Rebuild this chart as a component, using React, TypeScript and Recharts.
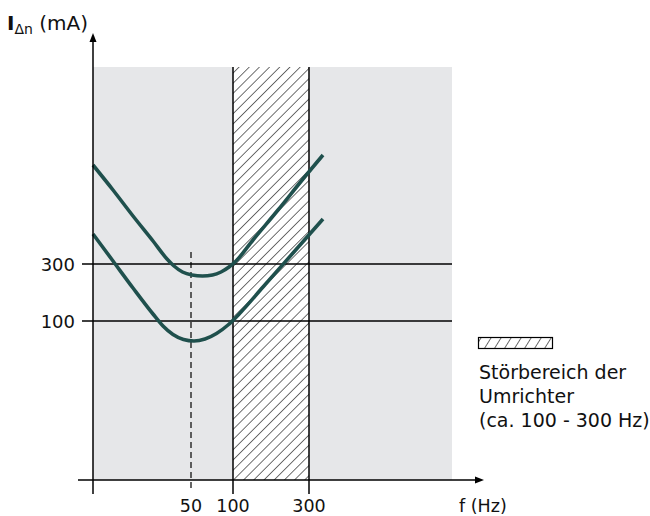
import React from "react";
import {
  ComposedChart,
  Line,
  XAxis,
  YAxis,
  ReferenceArea,
  ReferenceLine,
  ReferenceDot,
} from "recharts";

const FONT = "'DejaVu Sans', sans-serif";
const CURVE = "#1f504d";

// schematic units: u along f, v along I (origin where the axes cross)
const upperU = [0, 20, 40, 60, 74, 81, 89.5, 99, 109.5, 119.5, 128, 136, 143, 160, 185, 210, 230];
const upperV = [315, 290, 264, 239, 221, 214, 208, 205, 204, 205, 208, 213, 219, 240, 270, 301, 325];
const lowerU = [0, 20, 40, 60, 70, 80, 90.5, 101, 112, 123.5, 135, 148, 170, 200, 230];
const lowerV = [246, 219, 192, 166, 154, 145.5, 140.5, 139, 141, 146.5, 155, 168, 193, 227, 261];

const xTickPos = [98, 140, 216];
const xTickLabels = ["50", "100", "300"];
const yTickPos = [216, 159];
const yTickLabels = ["300", "100"];

const legendLines = ["Störbereich der", "Umrichter", "(ca. 100 - 300 Hz)"];

const upperData = upperU.map((u, i) => ({ u, v: upperV[i] }));
const lowerData = lowerU.map((u, i) => ({ u, v: lowerV[i] }));

const XTickLabel = (label: string) => (props: any) => (
  <text x={props.cx} y={props.cy + 18} textAnchor="middle" fontFamily={FONT} fontSize={17.5} fill="#111">
    {label}
  </text>
);

const YTickLabel = (label: string) => (props: any) => (
  <text x={props.cx - 7} y={props.cy + 6.5} textAnchor="end" fontFamily={FONT} fontSize={18} fill="#111">
    {label}
  </text>
);

const ArrowUp = (props: any) => (
  <path d={`M${props.cx},${props.cy} l-3.5,9 l7,0 z`} fill="#000" />
);
const ArrowRight = (props: any) => (
  <path d={`M${props.cx},${props.cy} l-9,-3.5 l0,7 z`} fill="#000" />
);

export default function App() {
  return (
    <div style={{ position: "absolute", left: 0, top: 0, width: 650, height: 516 }}>
      <svg width={0} height={0} style={{ position: "absolute" }}>
        <defs>
          <pattern id="hatch" patternUnits="userSpaceOnUse" width={7.2} height={7.2} patternTransform="rotate(45)">
            <rect width={7.2} height={7.2} fill="#fff" />
            <line x1={0} y1={0} x2={0} y2={7.2} stroke="#222" strokeWidth={1.3} />
          </pattern>
          <pattern id="hatchSmall" patternUnits="userSpaceOnUse" width={8.5} height={8.5} patternTransform="rotate(32)">
            <rect width={8.5} height={8.5} fill="#fff" />
            <line x1={0} y1={0} x2={0} y2={8.5} stroke="#222" strokeWidth={1.3} />
          </pattern>
        </defs>
      </svg>
      <ComposedChart width={650} height={516} margin={{ top: 0, right: 0, bottom: 0, left: 0 }}>
        <XAxis type="number" dataKey="u" domain={[-93, 557]} hide allowDataOverflow />
        <YAxis type="number" dataKey="v" domain={[-36, 480]} hide allowDataOverflow />
        <ReferenceArea x1={0} x2={359} y1={0} y2={413} fill="#e6e7e9" fillOpacity={1} stroke="none" />
        <ReferenceArea x1={140} x2={216} y1={0} y2={413} fill="url(#hatch)" fillOpacity={1} stroke="none" />
        {yTickPos.map((v) => (
          <ReferenceLine key={"h" + v} segment={[{ x: -11, y: v }, { x: 359, y: v }]} stroke="#000" strokeWidth={1.3} />
        ))}
        <ReferenceLine segment={[{ x: 140, y: -14 }, { x: 140, y: 413 }]} stroke="#000" strokeWidth={1.5} />
        <ReferenceLine segment={[{ x: 216, y: -14 }, { x: 216, y: 413 }]} stroke="#000" strokeWidth={1.5} />
        <ReferenceLine segment={[{ x: 98, y: -8 }, { x: 98, y: 232 }]} stroke="#000" strokeWidth={1.2} strokeDasharray="6 4" />
        <Line data={upperData} dataKey="v" type="monotone" stroke={CURVE} strokeWidth={3.6} dot={false} activeDot={false} isAnimationActive={false} />
        <Line data={lowerData} dataKey="v" type="monotone" stroke={CURVE} strokeWidth={3.6} dot={false} activeDot={false} isAnimationActive={false} />
        <ReferenceLine segment={[{ x: -15, y: 0 }, { x: 385, y: 0 }]} stroke="#000" strokeWidth={1.5} />
        <ReferenceLine segment={[{ x: 0, y: -14 }, { x: 0, y: 440 }]} stroke="#000" strokeWidth={1.5} />
        <ReferenceDot x={0} y={447} r={0} shape={ArrowUp} />
        <ReferenceDot x={391} y={0} r={0} shape={ArrowRight} />
        {xTickPos.map((u, i) => (
          <ReferenceDot key={"xt" + u} x={u} y={-14} r={0} shape={XTickLabel(xTickLabels[i])} />
        ))}
        {yTickPos.map((v, i) => (
          <ReferenceDot key={"yt" + v} x={-11} y={v} r={0} shape={YTickLabel(yTickLabels[i])} />
        ))}
      </ComposedChart>
      <svg width={650} height={516} style={{ position: "absolute", left: 0, top: 0, pointerEvents: "none" }}>
        <text x={7} y={30} fontFamily={FONT} fontSize={20} fill="#111">
          <tspan fontWeight="bold">I</tspan>
          <tspan fontSize={14} dy={4}>Δn</tspan>
          <tspan dy={-4}> (mA)</tspan>
        </text>
        <text x={459} y={512} fontFamily={FONT} fontSize={17.5} fill="#111">f (Hz)</text>
        <rect x={478.5} y={337.5} width={74} height={11} fill="url(#hatchSmall)" stroke="#000" strokeWidth={1.2} />
        {legendLines.map((t, i) => (
          <text key={t} x={479} y={379 + i * 24} fontFamily={FONT} fontSize={19} fill="#111">
            {t}
          </text>
        ))}
      </svg>
    </div>
  );
}
